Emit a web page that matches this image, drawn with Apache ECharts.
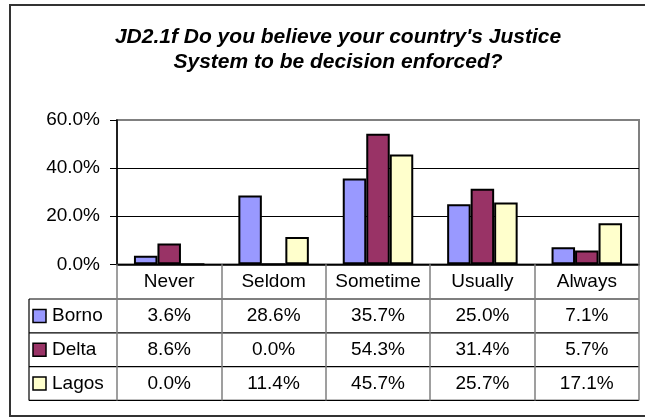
<!DOCTYPE html>
<html><head><meta charset="utf-8">
<script src="https://cdn.jsdelivr.net/npm/echarts@6/dist/echarts.min.js"></script>
<style>html,body{margin:0;padding:0;background:#fff}#c{width:645px;height:420px}</style>
</head><body><div id="c"></div>
<script>
const titleLines = ["JD2.1f Do you believe your country's Justice", "System to be decision enforced?"];
const categories = ["Never", "Seldom", "Sometime", "Usually", "Always"];
const seriesNames = ["Borno", "Delta", "Lagos"];
const borno = [3.6, 28.6, 35.7, 25.0, 7.1];
const delta = [8.6, 0.0, 54.3, 31.4, 5.7];
const lagos = [0.0, 11.4, 45.7, 25.7, 17.1];
const yTicks = [0, 20, 40, 60];
const seriesColors = ['#9999FF', '#993366', '#FFFFCC'];

const FONT = '"Liberation Sans", Arial, sans-serif';
const G = {left: 117, right: 639, top: 120, bottom: 264.3};
const rowTop = 299, rowH = 33.8, tableLeft = 29;
const values = [borno, delta, lagos];
const fmt = v => v.toFixed(1) + '%';

const chart = echarts.init(document.getElementById('c'), null, {renderer: 'canvas'});
chart.setOption({
  animation: false,
  backgroundColor: '#fff',
  textStyle: {fontFamily: FONT},
  title: {
    text: titleLines.join('\n'), left: 333, top: 20, textAlign: 'center',
    textStyle: {fontSize: 21, fontWeight: 'bold', fontStyle: 'italic', color: '#000', lineHeight: 25, fontFamily: FONT}
  },
  grid: {left: G.left, top: G.top, width: G.right - G.left, height: G.bottom - G.top,
    show: true, borderColor: '#808080', borderWidth: 2, backgroundColor: '#fff'},
  xAxis: {
    type: 'category', data: categories, boundaryGap: true,
    axisLine: {lineStyle: {color: '#000', width: 1.5}},
    axisTick: {show: true, interval: 0, length: rowTop + 3 * rowH - G.bottom, lineStyle: {color: '#808080', width: 1.5}},
    axisLabel: {interval: 0, color: '#000', fontSize: 19, margin: 17.5, verticalAlign: 'middle', fontFamily: FONT}
  },
  yAxis: {
    type: 'value', min: yTicks[0], max: yTicks[yTicks.length - 1], interval: yTicks[1] - yTicks[0],
    axisLine: {show: true, lineStyle: {color: '#000', width: 1.5}},
    axisTick: {show: true, length: 7, lineStyle: {color: '#000'}},
    axisLabel: {color: '#000', fontSize: 19, margin: 17, formatter: fmt, fontFamily: FONT},
    splitLine: {show: true, showMaxLine: false, lineStyle: {color: '#000', width: 1}}
  },
  series: seriesNames.map((n, i) => ({
    name: n, type: 'bar', data: values[i], barWidth: 23.5, barGap: '0%',
    itemStyle: {color: seriesColors[i], borderColor: '#000', borderWidth: 2}
  }))
});

const xs = categories.map(c => chart.convertToPixel({xAxisIndex: 0}, c));
const els = [];
els.push({type: 'rect', silent: true, z: 0, shape: {x: 10, y: 5, width: 700, height: 411},
  style: {fill: null, stroke: '#333', lineWidth: 2}});
for (let r = 0; r <= 3; r++) {
  const y = rowTop + r * rowH;
  els.push({type: 'line', silent: true, shape: {x1: tableLeft, y1: y, x2: G.right, y2: y},
    style: {stroke: '#000', lineWidth: 1.2}});
}
els.push({type: 'line', silent: true, shape: {x1: tableLeft, y1: rowTop, x2: tableLeft, y2: rowTop + 3 * rowH},
  style: {stroke: '#000', lineWidth: 1.2}});
seriesNames.forEach((n, i) => {
  const cy = rowTop + (i + 0.5) * rowH;
  els.push({type: 'rect', silent: true, shape: {x: 33, y: cy - 6.5, width: 13, height: 13},
    style: {fill: seriesColors[i], stroke: '#000', lineWidth: 1.5}});
  els.push({type: 'text', silent: true, x: 52, y: cy,
    style: {text: n, fontSize: 19, fontFamily: FONT, fill: '#000', align: 'left', verticalAlign: 'middle'}});
  values[i].forEach((v, j) => {
    els.push({type: 'text', silent: true, x: xs[j], y: cy,
      style: {text: fmt(v), fontSize: 19, fontFamily: FONT, fill: '#000', align: 'center', verticalAlign: 'middle'}});
  });
});
chart.setOption({graphic: els});
</script></body></html>
